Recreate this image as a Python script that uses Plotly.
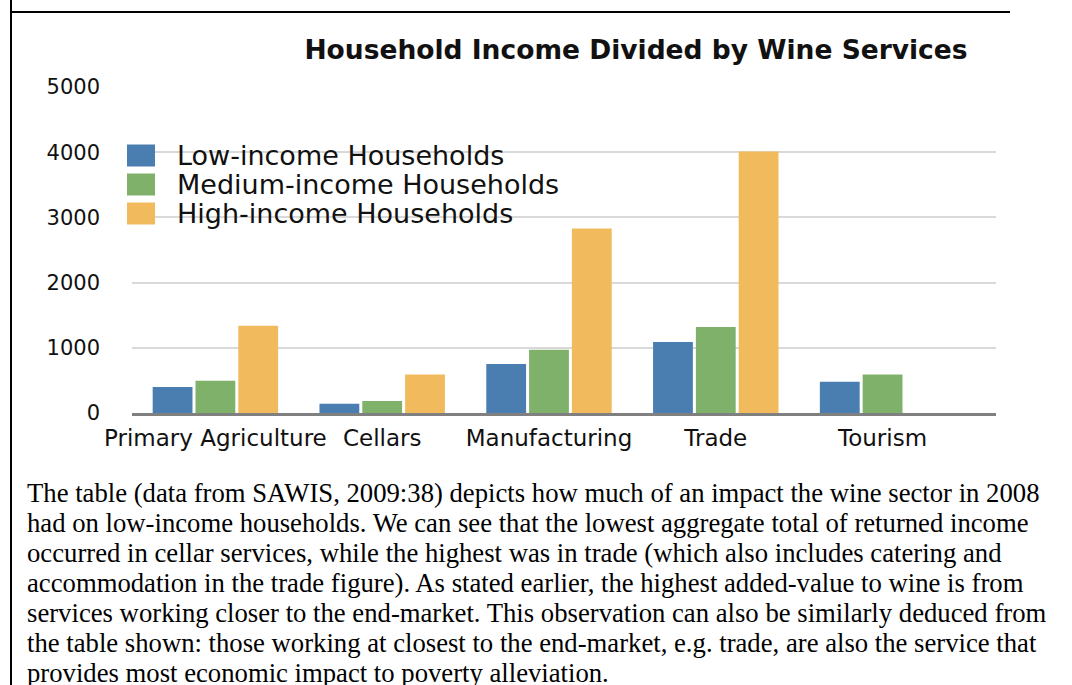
import plotly.graph_objects as go

# ---- data -------------------------------------------------------------
categories = ["Primary Agriculture", "Cellars", "Manufacturing", "Trade", "Tourism"]
low_income = [400, 140, 750, 1090, 480]
medium_income = [495, 185, 970, 1320, 590]
high_income = [1340, 590, 2830, 4010, None]

series_names = ["Low-income Households", "Medium-income Households", "High-income Households"]
series_colors = ["#4a7eb0", "#7fb16b", "#f1bb5d"]
y_ticks = [0, 1000, 2000, 3000, 4000, 5000]

chart_title = "Household Income Divided by Wine Services"

paragraph_lines = [
    "The table (data from SAWIS, 2009:38) depicts how much of an impact the wine sector in 2008",
    "had on low-income households. We can see that the lowest aggregate total of returned income",
    "occurred in cellar services, while the highest was in trade (which also includes catering and",
    "accommodation in the trade figure). As stated earlier, the highest added-value to wine is from",
    "services working closer to the end-market. This observation can also be similarly deduced from",
    "the table shown: those working at closest to the end-market, e.g. trade, are also the service that",
    "provides most economic impact to poverty alleviation.",
]

# ---- page geometry ----------------------------------------------------
W, H = 1072, 685
L, R, T, B = 132, 76, 87, 272
PW = W - L - R
PH = H - T - B


def px(x):
    """page pixel x -> paper coordinate"""
    return (x - L) / PW


def py(y):
    """page pixel y (from top) -> paper coordinate"""
    return (H - B - y) / PH


SANS = "DejaVu Sans"
SERIF = "Liberation Serif"
TEXT = "#111111"

fig = go.Figure()
for name, vals, col in zip(series_names, [low_income, medium_income, high_income], series_colors):
    fig.add_trace(go.Bar(x=categories, y=vals, name=name, marker=dict(color=col, line=dict(width=0)),
                         showlegend=False))

shapes = [
    # page frame
    dict(type="line", xref="paper", yref="paper", x0=px(11), x1=px(11), y0=py(0), y1=py(H),
         line=dict(color="black", width=2)),
    dict(type="line", xref="paper", yref="paper", x0=px(11), x1=px(1010), y0=py(12), y1=py(12),
         line=dict(color="black", width=2)),
]
annotations = []

# legend block
legend_rows = [155.5, 184.5, 213.5]
for name, col, cy in zip(series_names, series_colors, legend_rows):
    shapes.append(dict(type="rect", xref="paper", yref="paper", x0=px(127), x1=px(155),
                       y0=py(cy + 11), y1=py(cy - 11), fillcolor=col, line=dict(width=0), layer="above"))
    annotations.append(dict(text=name, xref="paper", yref="paper", x=px(175), y=py(cy),
                            xanchor="left", yanchor="middle", showarrow=False,
                            font=dict(family=SANS, size=27, color=TEXT)))

# body text beneath the chart
for i, line in enumerate(paragraph_lines):
    annotations.append(dict(text=line, xref="paper", yref="paper", x=px(25), y=py(492.5 + 30 * i),
                            xanchor="left", yanchor="middle", showarrow=False,
                            font=dict(family=SERIF, size=26.7, color="black")))

fig.update_layout(
    width=W, height=H,
    margin=dict(l=L, r=R, t=T, b=B, pad=0),
    paper_bgcolor="white", plot_bgcolor="white",
    barmode="group", bargap=0.23, bargroupgap=0.07,
    title=dict(text=chart_title, x=636 / W, xanchor="center", y=1 - 50 / H, yanchor="middle",
               font=dict(family=SANS, size=26.5, weight="bold", color=TEXT)),
    xaxis=dict(range=[-0.5, 4.68], showgrid=False, zeroline=False, showline=True,
               linecolor="#808080", linewidth=3, ticks="", ticklabelstandoff=2,
               tickfont=dict(family=SANS, size=23, color=TEXT)),
    yaxis=dict(range=[0, 5000], tickvals=y_ticks, showgrid=True, gridcolor="#d9d9d9", gridwidth=2,
               zeroline=False, showline=False, ticks="", ticklabelstandoff=31,
               tickfont=dict(family=SANS, size=21, color=TEXT)),
    shapes=shapes,
    annotations=annotations,
    showlegend=False,
)

fig.write_html("out.html")
